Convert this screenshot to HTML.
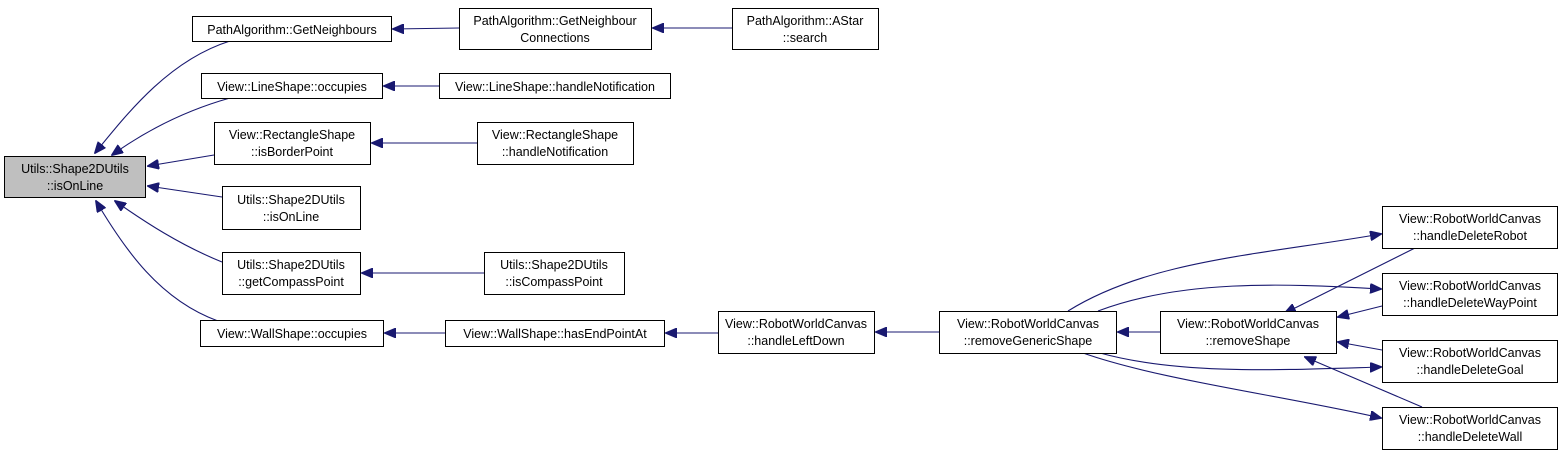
<!DOCTYPE html>
<html><head><meta charset="utf-8"><style>
html,body{margin:0;padding:0;background:#fff;width:1561px;height:457px;overflow:hidden}
text{font-family:"Liberation Sans",sans-serif;font-size:12.5px;fill:#000}
</style></head><body>
<svg width="1561" height="457" viewBox="0 0 1561 457" xmlns="http://www.w3.org/2000/svg">
<defs><marker id="a" markerWidth="12" markerHeight="10" refX="11" refY="5" orient="auto" markerUnits="userSpaceOnUse"><path d="M0,0 L12,5 L0,10 z" fill="#191970" stroke="#191970"/></marker></defs>
<g fill="none" stroke="#191970" stroke-width="1.1" marker-end="url(#a)">
<path d="M230,41 C170,60 130,110 95,153"/>
<path d="M230,98 C180,112 140,135 112,155"/>
<path d="M214,155 L148,166"/>
<path d="M222,197 L148,186"/>
<path d="M222,262 C180,245 145,222 115,201"/>
<path d="M218,321 C160,300 125,250 96,201"/>
<path d="M459,28 L393,29"/>
<path d="M732,28 L653,28"/>
<path d="M439,86 L384,86"/>
<path d="M477,143 L372,143"/>
<path d="M484,273 L362,273"/>
<path d="M445,333 L385,333"/>
<path d="M718,333 L666,333"/>
<path d="M939,332 L876,332"/>
<path d="M1160,332 L1118,332"/>
<path d="M1068,311 C1150,260 1260,255 1381,234"/>
<path d="M1415,248 L1285,313"/>
<path d="M1098,311 C1180,280 1280,283 1381,289"/>
<path d="M1382,306 L1338,317"/>
<path d="M1382,350 L1338,342"/>
<path d="M1100,353 C1180,375 1280,370 1381,367"/>
<path d="M1083,353 C1160,380 1280,395 1381,418"/>
<path d="M1422,407 L1305,357"/>
</g>
<g stroke="#000" stroke-width="1" fill="#fff">
<rect x="4.5" y="156.5" width="141" height="41" fill="#bfbfbf"/>
<rect x="192.5" y="16.5" width="199" height="25"/>
<rect x="459.5" y="8.5" width="192" height="41"/>
<rect x="732.5" y="8.5" width="146" height="41"/>
<rect x="201.5" y="73.5" width="181" height="25"/>
<rect x="439.5" y="73.5" width="231" height="25"/>
<rect x="214.5" y="122.5" width="156" height="42"/>
<rect x="477.5" y="122.5" width="156" height="42"/>
<rect x="222.5" y="186.5" width="138" height="43"/>
<rect x="222.5" y="252.5" width="138" height="42"/>
<rect x="484.5" y="252.5" width="140" height="42"/>
<rect x="200.5" y="320.5" width="183" height="26"/>
<rect x="445.5" y="320.5" width="219" height="26"/>
<rect x="718.5" y="311.5" width="156" height="42"/>
<rect x="939.5" y="311.5" width="177" height="42"/>
<rect x="1160.5" y="311.5" width="176" height="42"/>
<rect x="1382.5" y="206.5" width="175" height="42"/>
<rect x="1382.5" y="273.5" width="175" height="42"/>
<rect x="1382.5" y="340.5" width="175" height="42"/>
<rect x="1382.5" y="407.5" width="175" height="42"/>
</g>
<g text-anchor="middle">
<text x="75" y="173">Utils::Shape2DUtils</text><text x="75" y="190">::isOnLine</text>
<text x="292" y="34">PathAlgorithm::GetNeighbours</text>
<text x="555" y="25">PathAlgorithm::GetNeighbour</text><text x="555" y="42">Connections</text>
<text x="805" y="25">PathAlgorithm::AStar</text><text x="805" y="42">::search</text>
<text x="292" y="91">View::LineShape::occupies</text>
<text x="555" y="91">View::LineShape::handleNotification</text>
<text x="292" y="139">View::RectangleShape</text><text x="292" y="156">::isBorderPoint</text>
<text x="555" y="139">View::RectangleShape</text><text x="555" y="156">::handleNotification</text>
<text x="291" y="204">Utils::Shape2DUtils</text><text x="291" y="221">::isOnLine</text>
<text x="291" y="269">Utils::Shape2DUtils</text><text x="291" y="286">::getCompassPoint</text>
<text x="554" y="269">Utils::Shape2DUtils</text><text x="554" y="286">::isCompassPoint</text>
<text x="292" y="338">View::WallShape::occupies</text>
<text x="555" y="338">View::WallShape::hasEndPointAt</text>
<text x="796" y="328">View::RobotWorldCanvas</text><text x="796" y="345">::handleLeftDown</text>
<text x="1028" y="328">View::RobotWorldCanvas</text><text x="1028" y="345">::removeGenericShape</text>
<text x="1248" y="328">View::RobotWorldCanvas</text><text x="1248" y="345">::removeShape</text>
<text x="1470" y="223">View::RobotWorldCanvas</text><text x="1470" y="240">::handleDeleteRobot</text>
<text x="1470" y="290">View::RobotWorldCanvas</text><text x="1470" y="307">::handleDeleteWayPoint</text>
<text x="1470" y="357">View::RobotWorldCanvas</text><text x="1470" y="374">::handleDeleteGoal</text>
<text x="1470" y="424">View::RobotWorldCanvas</text><text x="1470" y="441">::handleDeleteWall</text>
</g>
</svg>
</body></html>
